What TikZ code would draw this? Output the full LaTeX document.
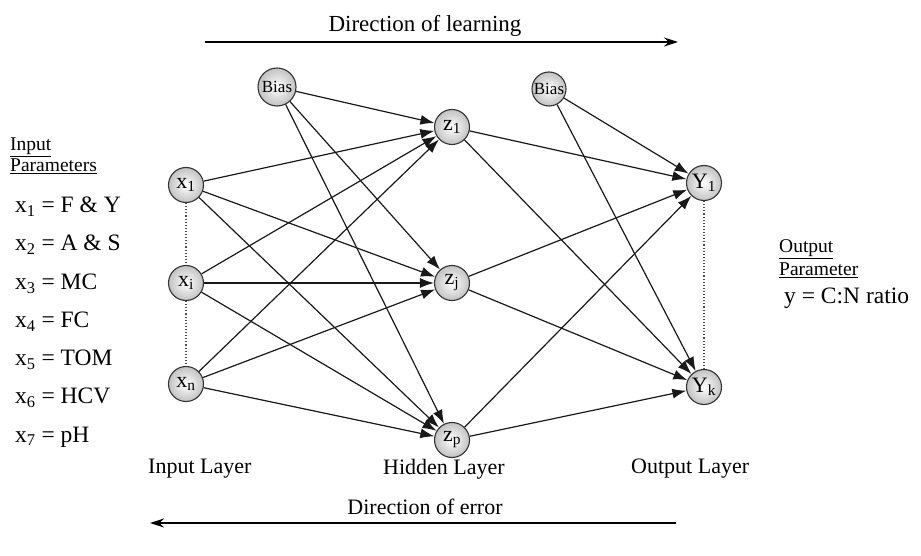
\documentclass[tikz,border=0pt]{standalone}
\usepackage{fontspec}
\setmainfont{Liberation Serif}
\usetikzlibrary{arrows.meta}
\tikzset{
  neuron/.style={circle, draw=black!80, line width=1.1pt, minimum size=35pt, inner sep=0pt,
    inner color=white, outer color=black!24, font=\fontsize{22}{22}\selectfont},
  biasnode/.style={neuron, font=\fontsize{17}{17}\selectfont},
  link/.style={line width=1.2pt, black!90, -{Latex[length=14pt,width=10pt]}},
  dir/.style={line width=1.2pt, -{Stealth[length=14pt,width=9pt]}},
  dots/.style={dotted, line width=1.1pt, black!70},
  lbl/.style={font=\fontsize{22}{24}\selectfont, inner sep=0pt},
  head/.style={font=\fontsize{19.5}{19.5}\selectfont, anchor=west, inner sep=0pt},
  par/.style={font=\fontsize{23.5}{24}\selectfont, anchor=west, inner sep=0pt},
}
\begin{document}
\begin{tikzpicture}[x=1pt, y=-1pt]
\useasboundingbox (0,0) rectangle (921,556);
% neurons
\node[biasnode, minimum size=38pt] (b1) at (277,87) {Bias};
\node[biasnode, minimum size=34pt] (b2) at (549,89) {Bias};
\node[neuron] (x1) at (186,185) {x\textsubscript{1}};
\node[neuron] (xi) at (186,283) {x\textsubscript{i}};
\node[neuron] (xn) at (186,384) {x\textsubscript{n}};
\node[neuron] (z1) at (452,127) {z\textsubscript{1}};
\node[neuron] (zj) at (452,283) {z\textsubscript{j}};
\node[neuron] (zp) at (452,440) {z\textsubscript{p}};
\node[neuron] (y1) at (704,183) {Y\textsubscript{1}};
\node[neuron] (yk) at (704,387) {Y\textsubscript{k}};
% dotted layer markers
\draw[dots] (x1) -- (xi);
\draw[dots] (xi) -- (xn);
\draw[dots] (y1) -- (yk);
% input to hidden
\foreach \s in {b1,x1,xi,xn}
  \foreach \t in {z1,zj,zp}
    \draw[link] (\s) -- (\t);
% hidden to output
\foreach \s in {b2,z1,zj,zp}
  \foreach \t in {y1,yk}
    \draw[link] (\s) -- (\t);
% direction arrows
\coordinate (ls) at (205,42);
\coordinate (le) at (678,42);
\draw[dir] (ls) -- (le);
\node[lbl, font=\fontsize{23}{24}\selectfont] (learn) at (425,26) {Direction of learning};
\coordinate (es) at (676,523);
\coordinate (ee) at (150,523);
\draw[dir] (es) -- (ee);
\node[lbl] (err) at (425,507) {Direction of error};
% layer names
\node[lbl, anchor=west] (il) at (148,469) {Input Layer};
\node[lbl, anchor=west] (hl) at (383,469) {Hidden Layer};
\node[lbl, anchor=west] (ol) at (631,469) {Output Layer};
% parameter lists
\node[head] (ip1) at (10,147) {\underline{Input}};
\node[head] (ip2) at (10,166) {\underline{Parameters}};
\node[par] (p1) at (15,207) {x\textsubscript{1} = F \& Y};
\node[par] (p2) at (15,245) {x\textsubscript{2} = A \& S};
\node[par] (p3) at (15,284) {x\textsubscript{3} = MC};
\node[par] (p4) at (15,322) {x\textsubscript{4} = FC};
\node[par] (p5) at (15,360) {x\textsubscript{5} = TOM};
\node[par] (p6) at (15,398) {x\textsubscript{6} = HCV};
\node[par] (p7) at (15,437) {x\textsubscript{7} = pH};
\node[head] (op1) at (779,249) {\underline{Output}};
\node[head] (op2) at (779,270) {\underline{Parameter}};
\node[par] (yv) at (784,298) {y = C:N ratio};
\end{tikzpicture}
\end{document}
